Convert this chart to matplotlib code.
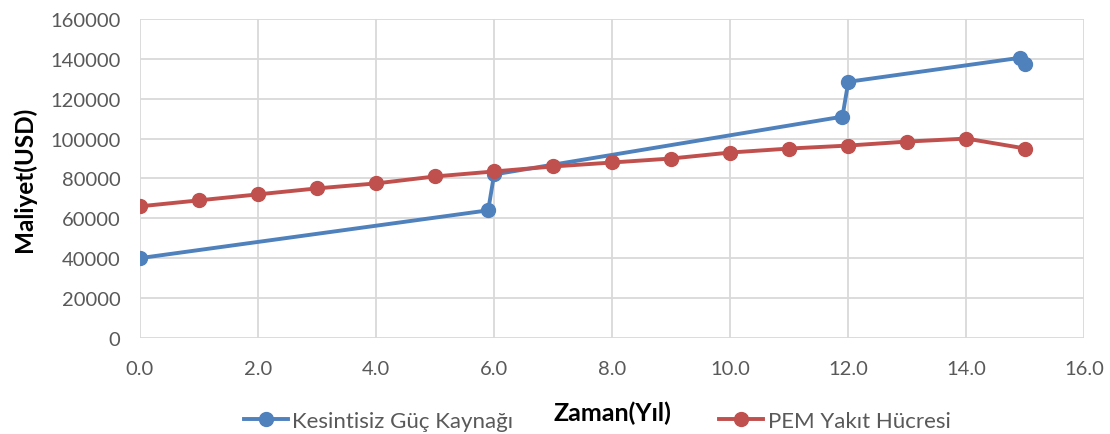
import matplotlib.pyplot as plt
from matplotlib.lines import Line2D

# blue series (UPS) - steps at battery replacement years
ups_x = [0.0, 5.9, 6.0, 11.9, 12.0, 14.9, 15.0]
ups_y = [40000, 64000, 82000, 111000, 128500, 140500, 137500]

# red series (PEM fuel cell)
pem_x = list(range(0, 16))
pem_y = [66000, 69000, 72000, 75000, 77500, 81000, 83500, 86000,
         88000, 90000, 93000, 95000, 96500, 98500, 100000, 95000]

ups_label = 'Kesintisiz Güç Kaynağı'
pem_label = 'PEM Yakıt Hücresi'
blue = '#4f81bd'
red = '#c0504d'

plt.rcParams['font.family'] = ['Lato', 'DejaVu Sans']

fig = plt.figure(figsize=(11.1, 4.35), dpi=100)
ax = fig.add_axes([0.126, 0.221, 0.851, 0.733])

ax.plot(ups_x, ups_y, color=blue, lw=2.8, marker='o', ms=10, zorder=3)
ax.plot(pem_x, pem_y, color=red, lw=2.8, marker='o', ms=10, zorder=3)

ax.set_xlim(0, 16)
ax.set_ylim(0, 160000)
ax.set_xticks(range(0, 17, 2))
ax.set_xticklabels([f"{v:.1f}" for v in range(0, 17, 2)])
ax.set_yticks(range(0, 160001, 20000))
ax.grid(True, color='#d9d9d9', lw=1.3)
ax.set_axisbelow(True)
for s in ax.spines.values():
    s.set_visible(False)
ax.tick_params(length=0, labelsize=14.5, colors='#595959')
ax.tick_params(axis='y', pad=14)
ax.tick_params(axis='x', pad=16)
ax.set_ylabel('Maliyet(USD)', fontsize=17.5, fontweight='bold', labelpad=10)

fig.text(0.552, 0.05, 'Zaman(Yıl)', fontsize=18, fontweight='bold', ha='center', va='center')

h1 = Line2D([], [], color=blue, lw=2.8, marker='o', ms=10)
h2 = Line2D([], [], color=red, lw=2.8, marker='o', ms=10)
fig.legend([h1], [ups_label], loc='center', bbox_to_anchor=(0.341, 0.03),
           frameon=False, fontsize=16, handlelength=2.0, handletextpad=0.2,
           labelcolor='#595959')
fig.legend([h2], [pem_label], loc='center', bbox_to_anchor=(0.752, 0.03),
           frameon=False, fontsize=16, handlelength=2.0, handletextpad=0.2,
           labelcolor='#595959')

fig.savefig('out.png', dpi=100)
